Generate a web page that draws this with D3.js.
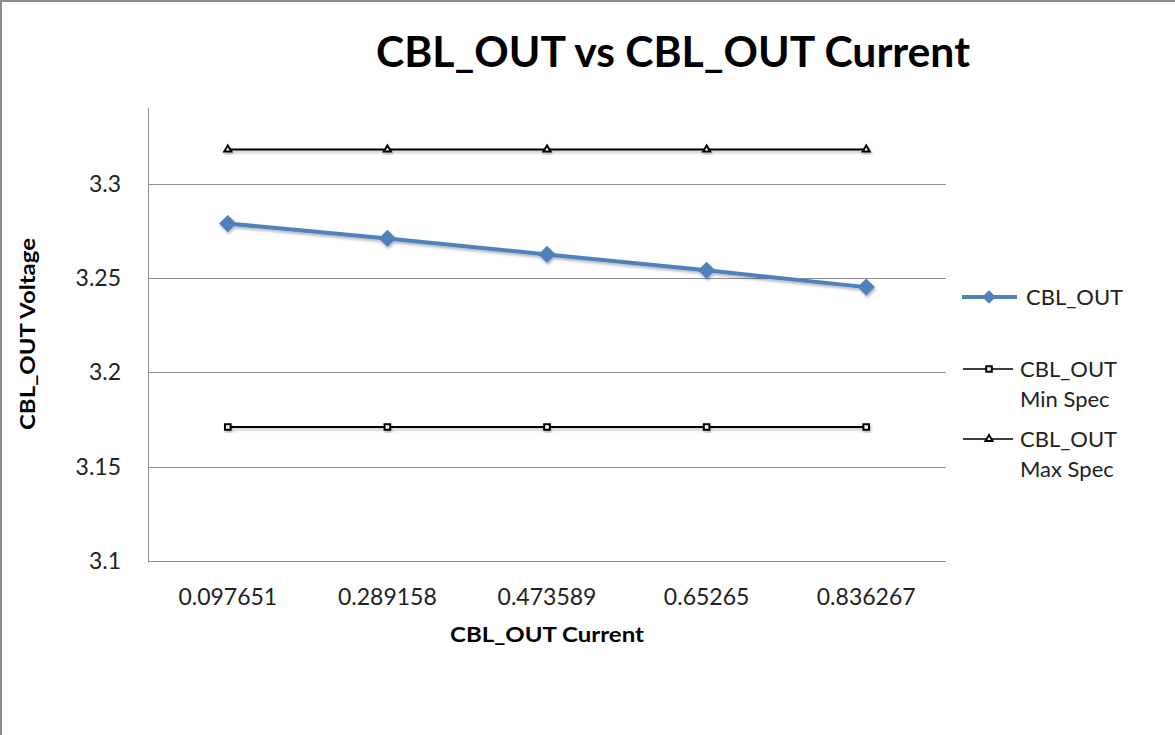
<!DOCTYPE html>
<html>
<head>
<meta charset="utf-8">
<script src="https://cdn.jsdelivr.net/npm/d3@7"></script>
<style>
  body { margin: 0; background: #fff; }
  svg { display: block; font-family: Lato, "Open Sans", sans-serif; }
</style>
</head>
<body>
<div id="chart"></div>
<script>
var width = 1175;
var height = 735;

// data
var currents = ["0.097651", "0.289158", "0.473589", "0.65265", "0.836267"];
var cblOut = [3.2788, 3.2709, 3.2624, 3.2540, 3.2451];
var minSpec = [3.171, 3.171, 3.171, 3.171, 3.171];
var maxSpec = [3.318, 3.318, 3.318, 3.318, 3.318];
var yTicks = [3.1, 3.15, 3.2, 3.25, 3.3];

var plot = {left: 148, right: 946, top: 108, bottom: 561};

var svg = d3.select('#chart')
  .append('svg')
  .attr('width', width)
  .attr('height', height);

var defs = svg.append('defs');
var f = defs.append('filter').attr('id', 'shadow')
  .attr('x', '-10%').attr('y', '-50%').attr('width', '120%').attr('height', '200%');
f.append('feDropShadow').attr('dx', 1).attr('dy', 2).attr('stdDeviation', 1.5)
  .attr('flood-color', '#000').attr('flood-opacity', 0.3);

// outer frame
svg.append('line').attr('x1', 0).attr('x2', width).attr('y1', 1).attr('y2', 1)
  .attr('stroke', '#8c8c8c').attr('stroke-width', 2);
svg.append('line').attr('x1', 1).attr('x2', 1).attr('y1', 0).attr('y2', height)
  .attr('stroke', '#8c8c8c').attr('stroke-width', 2);

var x = d3.scalePoint()
  .domain(currents)
  .range([plot.left, plot.right])
  .padding(0.5);

var y = d3.scaleLinear()
  .domain([3.1, 3.34])
  .range([plot.bottom, plot.top]);

// gridlines
svg.append('g')
  .selectAll('line')
  .data(yTicks.slice(1))
  .enter()
  .append('line')
  .attr('x1', plot.left)
  .attr('x2', plot.right)
  .attr('y1', function(d){ return Math.round(y(d)) + 0.5; })
  .attr('y2', function(d){ return Math.round(y(d)) + 0.5; })
  .attr('stroke', '#8e8e8e')
  .attr('stroke-width', 1);

// axes lines
svg.append('line')
  .attr('x1', plot.left + 0.5).attr('x2', plot.left + 0.5)
  .attr('y1', plot.top).attr('y2', plot.bottom)
  .attr('stroke', '#8e8e8e');
svg.append('line')
  .attr('x1', plot.left).attr('x2', plot.right)
  .attr('y1', plot.bottom + 0.5).attr('y2', plot.bottom + 0.5)
  .attr('stroke', '#8e8e8e');

// y tick labels
svg.append('g')
  .selectAll('text')
  .data(yTicks)
  .enter()
  .append('text')
  .attr('x', 121)
  .attr('y', function(d){ return y(d); })
  .attr('dy', '0.35em')
  .attr('text-anchor', 'end')
  .attr('font-size', 23)
  .attr('fill', '#222')
  .text(function(d){ return d3.format('')(+d.toFixed(2)); });

// x tick labels
svg.append('g')
  .selectAll('text')
  .data(currents)
  .enter()
  .append('text')
  .attr('x', function(d){ return x(d); })
  .attr('y', 597)
  .attr('dy', '0.35em')
  .attr('text-anchor', 'middle')
  .attr('font-size', 23)
  .attr('fill', '#222')
  .text(function(d){ return d; });

// titles
svg.append('text')
  .attr('x', 673).attr('y', 52)
  .attr('dy', '0.35em')
  .attr('text-anchor', 'middle')
  .attr('font-size', 42)
  .attr('font-weight', 'bold')
  .attr('textLength', 594)
  .attr('lengthAdjust', 'spacingAndGlyphs')
  .text('CBL_OUT vs CBL_OUT Current');

svg.append('text')
  .attr('x', 547).attr('y', 635)
  .attr('dy', '0.35em')
  .attr('text-anchor', 'middle')
  .attr('font-size', 21)
  .attr('font-weight', 'bold')
  .attr('textLength', 194)
  .attr('lengthAdjust', 'spacingAndGlyphs')
  .text('CBL_OUT Current');

svg.append('text')
  .attr('transform', 'translate(28,334) rotate(-90)')
  .attr('dy', '0.35em')
  .attr('text-anchor', 'middle')
  .attr('font-size', 21)
  .attr('font-weight', 'bold')
  .attr('textLength', 192)
  .attr('lengthAdjust', 'spacingAndGlyphs')
  .text('CBL_OUT Voltage');

var line = d3.line()
  .x(function(d, i){ return x(currents[i]); })
  .y(function(d){ return y(d); });

var diamond = d3.symbol().type(d3.symbolDiamond2).size(190);
var square = d3.symbol().type(d3.symbolSquare2).size(40);
var triangle = d3.symbol().type(d3.symbolTriangle2).size(36);

function drawSpec(vals, sym) {
  var g = svg.append('g').attr('filter', 'url(#shadow)');
  g.append('path')
    .attr('d', line(vals))
    .attr('fill', 'none')
    .attr('stroke', '#000')
    .attr('stroke-width', 2);
  g.selectAll('path.m')
    .data(vals)
    .enter()
    .append('path')
    .attr('class', 'm')
    .attr('transform', function(d, i){ return 'translate(' + x(currents[i]) + ',' + y(d) + ')'; })
    .attr('d', sym)
    .attr('fill', '#fff')
    .attr('stroke', '#000')
    .attr('stroke-width', 2);
}

drawSpec(maxSpec, triangle);
drawSpec(minSpec, square);

var gm = svg.append('g').attr('filter', 'url(#shadow)');
gm.append('path')
  .attr('d', line(cblOut))
  .attr('fill', 'none')
  .attr('stroke', '#4f81bd')
  .attr('stroke-width', 4);
gm.selectAll('path.m')
  .data(cblOut)
  .enter()
  .append('path')
  .attr('class', 'm')
  .attr('transform', function(d, i){ return 'translate(' + x(currents[i]) + ',' + y(d) + ')'; })
  .attr('d', diamond)
  .attr('fill', '#4f81bd');

// legend
var legend = svg.append('g');
var l1 = legend.append('g').attr('transform', 'translate(0,297)');
l1.append('line').attr('x1', 962).attr('x2', 1017).attr('stroke', '#4f81bd').attr('stroke-width', 4);
l1.append('path').attr('transform', 'translate(989,0)').attr('d', d3.symbol().type(d3.symbolDiamond2).size(120)).attr('fill', '#4f81bd');
l1.append('text').attr('x', 1026).attr('dy', '0.35em').attr('font-size', 22).attr('fill', '#222').text('CBL_OUT');

var specLegend = [
  {y: 369, sym: square, lines: ['CBL_OUT', 'Min Spec']},
  {y: 439, sym: triangle, lines: ['CBL_OUT', 'Max Spec']}
];
specLegend.forEach(function(s){
  var g = legend.append('g').attr('transform', 'translate(0,' + s.y + ')');
  g.append('line').attr('x1', 963).attr('x2', 1013).attr('stroke', '#000').attr('stroke-width', 1.5);
  g.append('path').attr('transform', 'translate(989,0)').attr('d', s.sym)
    .attr('fill', '#fff').attr('stroke', '#000').attr('stroke-width', 2);
  g.selectAll('text')
    .data(s.lines)
    .enter()
    .append('text')
    .attr('x', 1020)
    .attr('y', function(d, i){ return i * 30; })
    .attr('dy', '0.35em')
    .attr('font-size', 22)
    .attr('fill', '#222')
    .text(function(d){ return d; });
});
</script>
</body>
</html>
